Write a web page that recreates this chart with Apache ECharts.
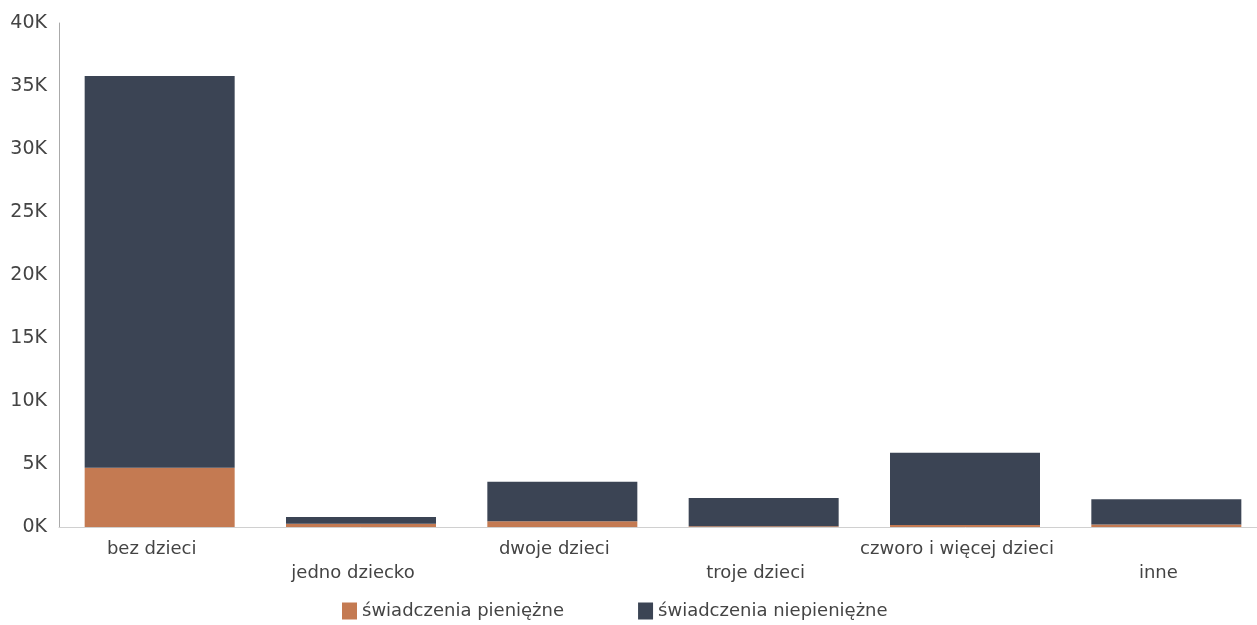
<!DOCTYPE html>
<html><head><meta charset="utf-8">
<script src="https://cdn.jsdelivr.net/npm/echarts@6/dist/echarts.min.js"></script>
<style>html,body{margin:0;padding:0;background:#fff;overflow:hidden;width:1257px;height:625px}#c{width:1267px;height:625px}</style>
</head><body><div id="c"></div>
<script>
const categories = ['bez dzieci','jedno dziecko','dwoje dzieci','troje dzieci','czworo i więcej dzieci','inne'];
const pieniezne = [4700, 250, 450, 60, 150, 200];
const niepieniezne = [31100, 550, 3150, 2250, 5750, 2000];
const seriesNames = ['świadczenia pieniężne','świadczenia niepieniężne'];

const chart = echarts.init(document.getElementById('c'));
const font = '"DejaVu Sans", sans-serif';
chart.setOption({
  animation: false,
  textStyle: {fontFamily: font},
  grid: {left: 59, right: 0, top: 23, bottom: 98, containLabel: false},
  legend: {
    top: 597, left: 337,
    itemWidth: 15, itemHeight: 17, itemGap: 74,
    icon: 'rect',
    textStyle: {fontSize: 18, color: '#444', fontFamily: font},
    data: seriesNames
  },
  xAxis: {
    type: 'category', data: categories,
    axisLine: {lineStyle: {color: '#d0d0d0'}},
    axisTick: {show: false},
    axisLabel: {
      interval: 0, fontSize: 18, color: '#444', margin: 10, lineHeight: 24,
      padding: [0, 16, 0, 0],
      formatter: (v, i) => (i % 2 ? '\n' + v : v)
    }
  },
  yAxis: {
    type: 'value', min: 0, max: 40000, interval: 5000,
    axisLine: {show: true, lineStyle: {color: '#aaa'}},
    axisTick: {show: false},
    splitLine: {show: false},
    axisLabel: {fontSize: 19, color: '#444', margin: 12,
      formatter: v => (v / 1000) + 'K'}
  },
  series: [
    {name: seriesNames[0], type: 'bar', stack: 's', barWidth: 150, data: pieniezne,
     itemStyle: {color: '#c47a52'}},
    {name: seriesNames[1], type: 'bar', stack: 's', barWidth: 150, data: niepieniezne,
     itemStyle: {color: '#3b4454'}}
  ]
});
</script></body></html>
